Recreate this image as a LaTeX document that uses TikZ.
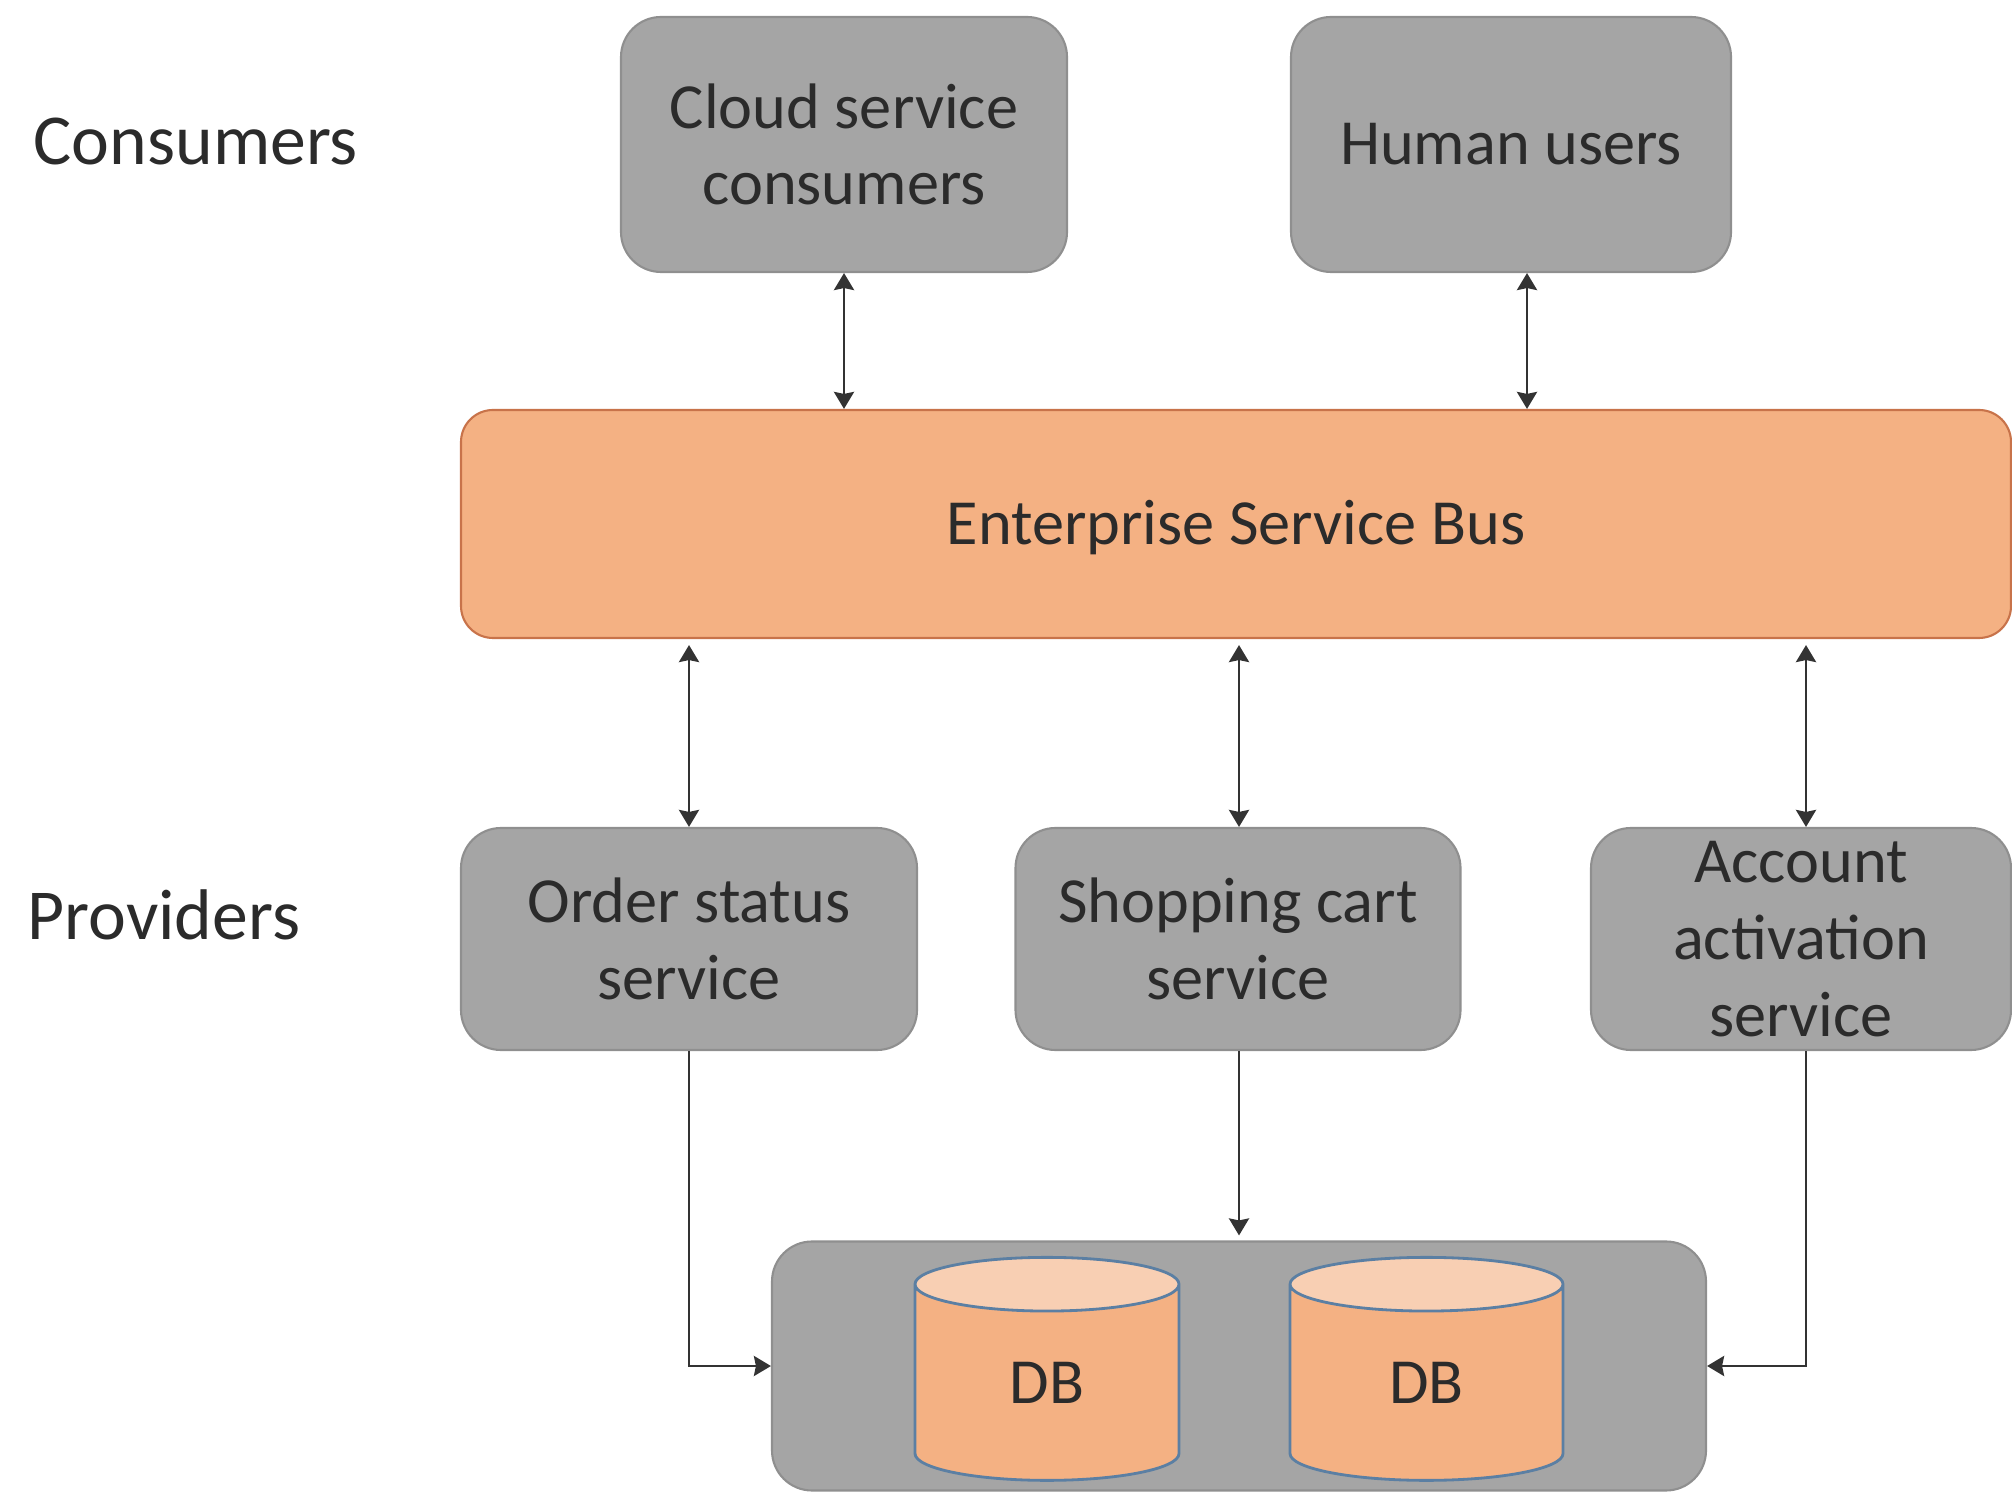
\documentclass[tikz,border=0pt]{standalone}
\usepackage{fontspec}
\setmainfont{Carlito}
\usetikzlibrary{arrows.meta,shapes.geometric}
\definecolor{boxgray}{HTML}{A5A5A5}
\definecolor{boxline}{HTML}{8F8F8F}
\definecolor{busfill}{HTML}{F4B183}
\definecolor{busline}{HTML}{C8734A}
\definecolor{dbtop}{HTML}{F8CFB3}
\definecolor{dbline}{HTML}{5B7FA3}
\definecolor{inktext}{HTML}{2B2B2B}
\tikzset{
    svcbox/.style={draw=boxline, fill=boxgray, line width=0.6pt, rounded corners=0.4cm,
        inner sep=0pt, align=center, text=inktext, font=\fontsize{18.3}{21.8}\selectfont},
    busbox/.style={svcbox, draw=busline, fill=busfill, rounded corners=0.32cm},
    dbstore/.style={cylinder, shape border rotate=90, aspect=0.72, cylinder uses custom fill,
        cylinder body fill=busfill, cylinder end fill=dbtop, draw=dbline, line width=0.8pt,
        inner sep=0pt, text=inktext, font=\fontsize{18.3}{21.8}\selectfont},
    sidelabel/.style={anchor=west, inner sep=0pt, text=inktext, font=\fontsize{20.4}{24}\selectfont},
    link/.style={line width=0.8pt, draw=black!80}
}
\begin{document}
\begin{tikzpicture}[>={Stealth[length=1.7mm,width=2mm,inset=0.2mm]}]
    \useasboundingbox (0,0) rectangle (20.12,14.95);
    % labels
    \node[sidelabel] (consumers) at (0.33,13.53) {Consumers};
    \node[sidelabel] (providers) at (0.27,5.80) {Providers};
    % boxes
    \node[svcbox, minimum width=4.46cm, minimum height=2.55cm] (cloud) at (8.44,13.505) {Cloud service\\consumers};
    \node[svcbox, minimum width=4.40cm, minimum height=2.55cm] (human) at (15.11,13.505) {Human users};
    \node[busbox, minimum width=15.50cm, minimum height=2.28cm] (esb) at (12.36,9.71) {\raisebox{-0.04cm}[\height][\depth]{Enterprise Service Bus}};
    \node[svcbox, minimum width=4.56cm, minimum height=2.22cm] (order) at (6.89,5.56) {Order status\\service};
    \node[svcbox, minimum width=4.45cm, minimum height=2.22cm] (cart) at (12.38,5.56) {Shopping cart\\service};
    \node[svcbox, minimum width=4.20cm, minimum height=2.22cm] (account) at (18.01,5.56) {Account\\activation\\service};
    \node[svcbox, minimum width=9.34cm, minimum height=2.49cm] (store) at (12.39,1.29) {};
    \node[dbstore, minimum width=2.64cm, minimum height=2.23cm] (dba) at (10.47,1.12) {DB};
    \node[dbstore, minimum width=2.73cm, minimum height=2.23cm] (dbb) at (14.265,1.12) {DB};
    % arrow columns
    \coordinate (colh) at (15.27,0);
    \coordinate (cola) at (18.06,0);
    % consumers to bus
    \draw[link, <->] (cloud.south) -- (cloud.south |- esb.north);
    \draw[link, <->] (colh |- human.south) -- (colh |- esb.north);
    % bus to providers
    \draw[link, <->, shorten <=0.06cm] (order.north |- esb.south) -- (order.north);
    \draw[link, <->, shorten <=0.06cm] (store.north |- esb.south) -- (store.north |- cart.north);
    \draw[link, <->, shorten <=0.06cm] (cola |- esb.south) -- (cola |- account.north);
    % providers to store
    \draw[link, ->] (order.south) |- (store.west);
    \draw[link, ->, shorten >=0.05cm] (store.north |- cart.south) -- (store.north);
    \draw[link, ->] (cola |- account.south) |- (store.east);
\end{tikzpicture}
\end{document}
